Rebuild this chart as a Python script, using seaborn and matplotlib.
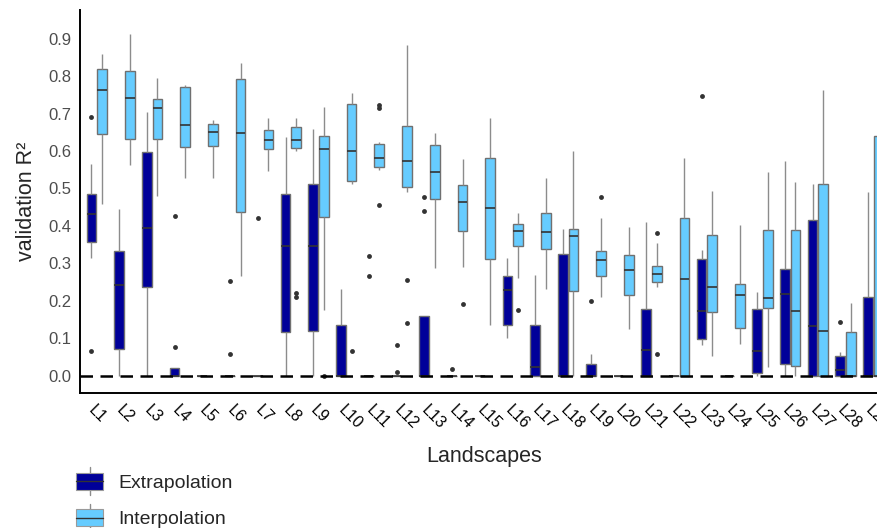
import numpy as np
import pandas as pd
import matplotlib
matplotlib.use("Agg")
import matplotlib.pyplot as plt
from matplotlib.patches import Rectangle, Patch
from matplotlib.lines import Line2D
from matplotlib.legend_handler import HandlerBase
import seaborn as sns

# ── Data (whisker-low, Q1, median, Q3, whisker-high, outliers) ──
landscapes = [f"L{i}" for i in range(1, 30)]
groups = ["Extrapolation", "Interpolation"]

ext_lo = [0.314, 0, 0, 0, 0, 0, 0, 0, 0, 0, 0, 0, 0, 0, 0,
          0.100, 0, 0, 0, 0, 0, 0, 0.082, 0, 0, 0, 0, 0, 0]
ext_q1 = [0.356, 0.070, 0.236, 0, 0, 0, 0, 0.116, 0.120, 0, 0, 0, 0, 0, 0,
          0.135, 0, 0, 0, 0, 0, 0, 0.098, 0, 0.008, 0.031, 0, 0, 0]
ext_med = [0.432, 0.241, 0.395, 0, 0, 0, 0, 0.345, 0.347, 0, 0, 0, 0, 0, 0,
           0.228, 0.022, 0, 0, 0, 0.068, 0, 0.172, 0, 0.065, 0.217, 0.132, 0.015, 0]
ext_q3 = [0.484, 0.334, 0.598, 0.019, 0, 0, 0, 0.486, 0.513, 0.134, 0, 0, 0.158, 0, 0,
          0.266, 0.134, 0.324, 0.032, 0, 0.178, 0, 0.311, 0, 0.177, 0.285, 0.415, 0.052, 0.211]
ext_hi = [0.564, 0.446, 0.703, 0.019, 0, 0, 0, 0.637, 0.658, 0.231, 0, 0, 0.158, 0, 0,
          0.314, 0.269, 0.392, 0.058, 0, 0.411, 0, 0.336, 0, 0.224, 0.572, 0.513, 0.064, 0.491]
ext_out = [[0.692, 0.066], [], [], [0.426, 0.077], [], [0.253, 0.058], [0.420], [], [], [],
           [0.319, 0.267], [0.083, 0.010], [0.477, 0.439], [0.017], [], [], [], [], [0.198], [],
           [], [], [0.747], [], [], [], [], [0.143], []]

int_lo = [0.459, 0.562, 0.479, 0.528, 0.528, 0.267, 0.546, 0.600, 0.176, 0.513, 0.550, 0.491,
          0.287, 0.290, 0.134, 0.262, 0.231, 0, 0.209, 0.124, 0.236, 0, 0.052, 0.084, 0.024,
          0, 0, 0, 0]
int_q1 = [0.644, 0.633, 0.633, 0.610, 0.613, 0.438, 0.604, 0.607, 0.423, 0.520, 0.558, 0.505,
          0.471, 0.386, 0.311, 0.346, 0.339, 0.225, 0.265, 0.215, 0.249, 0, 0.171, 0.127, 0.180,
          0.026, 0, 0, 0]
int_med = [0.762, 0.742, 0.716, 0.669, 0.651, 0.647, 0.628, 0.628, 0.606, 0.600, 0.582, 0.572,
           0.543, 0.464, 0.447, 0.387, 0.383, 0.373, 0.308, 0.281, 0.271, 0.258, 0.236, 0.215,
           0.207, 0.173, 0.120, 0, 0]
int_q3 = [0.819, 0.814, 0.740, 0.770, 0.673, 0.792, 0.655, 0.665, 0.640, 0.725, 0.618, 0.667,
          0.617, 0.510, 0.581, 0.404, 0.435, 0.392, 0.333, 0.321, 0.292, 0.420, 0.376, 0.245,
          0.389, 0.389, 0.513, 0.116, 0.641]
int_hi = [0.859, 0.913, 0.794, 0.776, 0.683, 0.835, 0.688, 0.689, 0.718, 0.754, 0.625, 0.884,
          0.647, 0.578, 0.687, 0.435, 0.529, 0.599, 0.421, 0.396, 0.354, 0.581, 0.493, 0.401,
          0.544, 0.517, 0.763, 0.195, 0.932]
int_out = [[], [], [], [], [], [], [], [0.220, 0.211], [0.0], [0.066],
           [0.722, 0.714, 0.455], [0.254, 0.140], [], [0.191], [], [0.176], [], [], [0.478], [],
           [0.380, 0.057], [], [], [], [], [], [], [], []]

DARK = "#000099"
LIGHT = "#66CCFF"

# ── Build a long table whose quartiles/whiskers reproduce the stats above ──
def sample(lo, q1, med, q3, hi, out, m=10):
    return [lo] + [q1] * m + [med] * m + [q3] * m + [hi] + list(out)

rows = []
stats = {
    "Extrapolation": (ext_lo, ext_q1, ext_med, ext_q3, ext_hi, ext_out),
    "Interpolation": (int_lo, int_q1, int_med, int_q3, int_hi, int_out),
}
for g, (lo, q1, md, q3, hi, out) in stats.items():
    for i, land in enumerate(landscapes):
        for v in sample(lo[i], q1[i], md[i], q3[i], hi[i], out[i]):
            rows.append((land, g, v))
df = pd.DataFrame(rows, columns=["landscape", "type", "r2"])

# ── Style ──
sns.set_style("white")
plt.rcParams["font.family"] = ["Liberation Sans", "DejaVu Sans"]

fig = plt.figure(figsize=(8.77, 5.28), dpi=100)
ax = fig.add_axes([80 / 877, 135 / 528, 810 / 877, 383 / 528])

sns.boxplot(data=df, x="landscape", y="r2", hue="type", order=landscapes,
            hue_order=groups, palette=[DARK, LIGHT], saturation=1,
            width=0.76, gap=0.08, showcaps=False, fliersize=3, legend=False,
            boxprops=dict(edgecolor="#707070", linewidth=1),
            whiskerprops=dict(color="#8C8C8C", linewidth=1),
            medianprops=dict(color="#333333", linewidth=1.2),
            flierprops=dict(marker="o", markerfacecolor="#333333",
                            markeredgecolor="none", markersize=3.5),
            ax=ax)

ax.axhline(0, color="black", linestyle=(0, (5, 3)), linewidth=1.8, zorder=10)

ax.set_xlim(-0.6, 28.6)
ax.set_ylim(-0.0465, 0.9765)
ax.set_yticks(np.arange(0, 0.91, 0.1))
ax.set_yticklabels([f"{t:.1f}" for t in np.arange(0, 0.91, 0.1)])

for s in ["top", "right"]:
    ax.spines[s].set_visible(False)
for s in ["left", "bottom"]:
    ax.spines[s].set_color("black")
    ax.spines[s].set_linewidth(1.4)

ax.tick_params(axis="both", which="major", length=4, width=1.1, color="black")
ax.tick_params(axis="y", labelcolor="#4D4D4D", labelsize=12, pad=2)
ax.tick_params(axis="x", labelcolor="black", labelsize=11.5, pad=3)
for lab in ax.get_xticklabels():
    lab.set_rotation(-45)
    lab.set_ha("left")
    lab.set_va("top")
    lab.set_rotation_mode("anchor")

ax.set_xlabel("Landscapes", fontsize=15.5)
ax.set_ylabel("validation R²", fontsize=15.5)
ax.xaxis.set_label_coords((484 - 80) / 810, (393 - 446) / 383)
ax.yaxis.set_label_coords((37 - 80) / 810, 0.5)


# ── Legend: ggplot-like boxplot keys ──
class BoxKey(HandlerBase):
    def create_artists(self, legend, orig_handle, xdescent, ydescent,
                       width, height, fontsize, trans):
        x0, y0 = -xdescent, -ydescent
        fc = orig_handle.get_facecolor()
        wl = height * 0.35
        arts = [
            Line2D([x0 + width / 2] * 2, [y0 - wl, y0], color="#8C8C8C", lw=1),
            Line2D([x0 + width / 2] * 2, [y0 + height, y0 + height + wl], color="#8C8C8C", lw=1),
            Rectangle((x0, y0), width, height, facecolor=fc, edgecolor="#9A9A9A", lw=0.8),
            Line2D([x0, x0 + width], [y0 + height / 2] * 2, color="#333333", lw=1),
        ]
        for a in arts:
            a.set_transform(trans)
        return arts


handles = [Patch(facecolor=DARK), Patch(facecolor=LIGHT)]
fig.legend(handles, groups, handler_map={Patch: BoxKey()},
           loc="upper left", bbox_to_anchor=(76 / 877, 1 - 473 / 528),
           frameon=False, fontsize=14, handlelength=1.39, handleheight=0.93,
           handletextpad=0.8, labelspacing=0.9, borderpad=0, borderaxespad=0)

fig.savefig("out.png", dpi=100)
